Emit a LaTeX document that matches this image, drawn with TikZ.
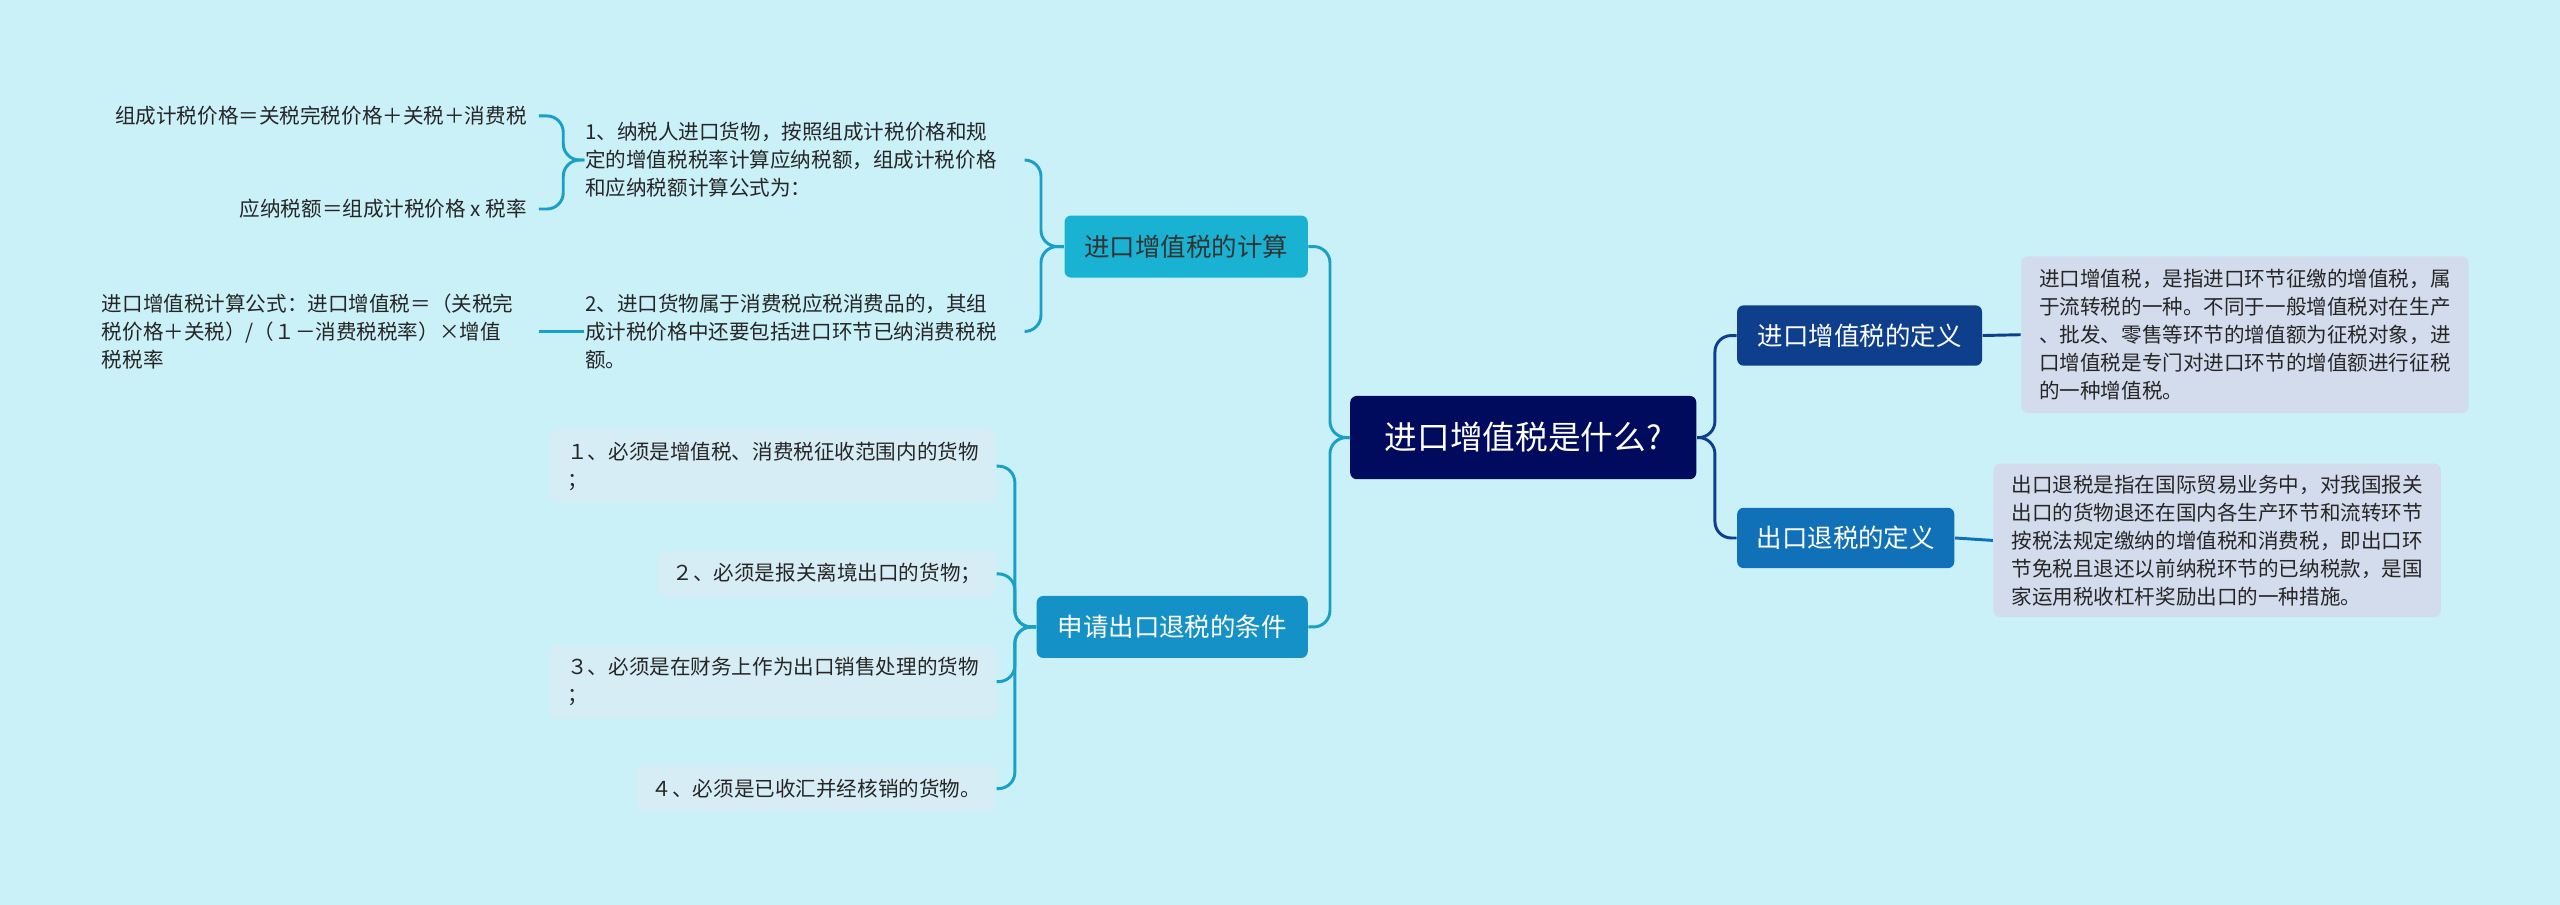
\documentclass[tikz,border=0pt]{standalone}
\usepackage{fontspec}
\setmainfont{Noto Sans CJK SC}
\begin{document}
\begin{tikzpicture}[x=0.5pt,y=-0.5pt,
 box/.style={rounded corners=2pt,inner sep=0pt,align=center},
 cen/.style={box,fill=cnavy,text=white,font=\fontsize{10}{12}\selectfont},
 br/.style={box,text=white,font=\fontsize{7.8}{10}\selectfont},
 leaf/.style={rounded corners=2pt,inner sep=0pt,align=left,font=\fontsize{6.3}{8.6}\selectfont,text=black!85},
 con/.style={draw=lnk,line width=0.9pt,rounded corners=5pt}]
\definecolor{bg}{HTML}{CAF0F8}
\definecolor{cnavy}{HTML}{000B5E}
\definecolor{b1}{HTML}{0E3F8C}
\definecolor{b2}{HTML}{1070B8}
\definecolor{b3}{HTML}{1AB2D2}
\definecolor{b4}{HTML}{1491C6}
\definecolor{lf}{HTML}{D3DCEC}
\definecolor{lf2}{HTML}{D6EDF5}
\definecolor{lnk}{HTML}{1A9FC8}
\fill[bg] (0,0) rectangle (1568,554);
\useasboundingbox (0,0) rectangle (1568,554);
\node[cen,minimum width=106pt,minimum height=25.5pt] (c) at (933,268) {进口增值税是什么?};
\node[br,fill=b1,minimum width=75pt,minimum height=18.5pt] (r1) at (1139,205.5) {进口增值税的定义};
\node[br,fill=b2,minimum width=66.5pt,minimum height=18.5pt] (r2) at (1130.5,329.5) {出口退税的定义};
\node[leaf,fill=lf,minimum width=137pt,minimum height=48pt,align=left] (rl1) at (1375,205) {进口增值税，是指进口环节征缴的增值税，属\\于流转税的一种。不同于一般增值税对在生产\\、批发、零售等环节的增值额为征税对象，进\\口增值税是专门对进口环节的增值额进行征税\\的一种增值税。};
\node[leaf,fill=lf,minimum width=137pt,minimum height=47pt] (rl2) at (1358,331) {出口退税是指在国际贸易业务中，对我国报关\\出口的货物退还在国内各生产环节和流转环节\\按税法规定缴纳的增值税和消费税，即出口环\\节免税且退还以前纳税环节的已纳税款，是国\\家运用税收杠杆奖励出口的一种措施。};
\node[br,fill=b3,text=black!80,minimum width=74.5pt,minimum height=19pt] (l1) at (726.5,151) {进口增值税的计算};
\node[br,fill=b4,minimum width=83pt,minimum height=19pt] (l2) at (718,384) {申请出口退税的条件};
\node[leaf,anchor=west] (t1) at (358,98) {1、纳税人进口货物，按照组成计税价格和规\\定的增值税税率计算应纳税额，组成计税价格\\和应纳税额计算公式为：};
\node[leaf,anchor=west] (t2) at (358,203) {2、进口货物属于消费税应税消费品的，其组\\成计税价格中还要包括进口环节已纳消费税税\\额。};
\node[leaf,anchor=east] (s1) at (323,71) {组成计税价格＝关税完税价格＋关税＋消费税};
\node[leaf,anchor=east] (s2) at (323,128) {应纳税额＝组成计税价格 x 税率};
\node[leaf,anchor=west] (s3) at (62,203) {进口增值税计算公式：进口增值税＝（关税完\\税价格＋关税）/（１－消费税税率）×增值\\税税率};
\node[leaf,fill=lf2,minimum width=136.5pt,minimum height=22.5pt] (q1) at (473.5,285.5) {１、必须是增值税、消费税征收范围内的货物\\；};
\node[leaf,fill=lf2,minimum width=103.5pt,minimum height=14pt,align=center] (q2) at (506.5,351.5) {２、必须是报关离境出口的货物；};
\node[leaf,fill=lf2,minimum width=136.5pt,minimum height=22.5pt] (q3) at (473.5,417.5) {３、必须是在财务上作为出口销售处理的货物\\；};
\node[leaf,fill=lf2,minimum width=110pt,minimum height=14pt,align=center] (q4) at (500,483) {４、必须是已收汇并经核销的货物。};
\draw[con,draw=b1] (c.east) -- ++(11,0) |- (r1.west);
\draw[con,draw=b1] (c.east) -- ++(11,0) |- (r2.west);
\draw[con,draw=b1] (r1.east) -- (rl1.west);
\draw[con,draw=b2] (r2.east) -- (rl2.west);
\draw[con] (c.west) -- ++(-12,0) |- (l1.east);
\draw[con] (c.west) -- ++(-12,0) |- (l2.east);
\draw[con] (l1.west) -- ++(-14,0) |- (628,98);
\draw[con] (l1.west) -- ++(-14,0) |- (628,203);
\draw[con] (t1.west) -- ++(-13,0) |- (330,71);
\draw[con] (t1.west) -- ++(-13,0) |- (330,128);
\draw[con] (t2.west) -- (330,203);
\foreach \q in {q1,q2,q3,q4}{\draw[con] (l2.west) -- ++(-13,0) |- (\q.east);}
\end{tikzpicture}
\end{document}
